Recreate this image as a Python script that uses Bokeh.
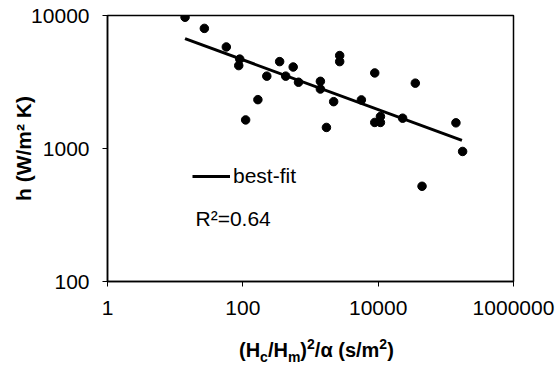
from bokeh.plotting import figure
from bokeh.models import (Range1d, FixedTicker, CustomJSTickFormatter, Label,
                          Legend, LegendItem, ColumnDataSource, Div)
from bokeh.layouts import column
from bokeh.embed import file_html
from bokeh.resources import INLINE

# ---- data ----
x_values = [14, 27, 57, 90, 87, 167, 110, 226, 350, 430, 555, 665,
            1400, 1400, 2700, 2700, 2200, 1720, 5650, 8900, 8900,
            10800, 10800, 23000, 35400, 44500, 141000, 177000]
h_values = [9700, 8000, 5800, 4700, 4200, 2330, 1640, 3500, 4500, 3500, 4100, 3150,
            3200, 2800, 5000, 4500, 2250, 1440, 2320, 3700, 1570,
            1570, 1740, 1690, 3100, 520, 1560, 950]
fit_x = [14, 173000]
fit_y = [6700, 1150]
x_ticks = [1, 100, 10000, 1000000]
y_ticks = [100, 1000, 10000]
fit_label = "best-fit"
r2_text = "R\u00b2=0.64"
y_title = "h (W/m\u00b2 K)"
x_title_html = ("(H<sub>c</sub>/H<sub>m</sub>)<sup>2</sup>/\u03b1 "
                "(s/m<sup>2</sup>)")

FONT = "Liberation Sans"

p = figure(width=560, height=335, x_axis_type="log", y_axis_type="log",
           x_range=Range1d(1, 1e6), y_range=Range1d(100, 10000),
           output_backend="svg", toolbar_location=None,
           min_border_left=107, min_border_right=47,
           min_border_top=15, min_border_bottom=54, margin=0)

p.background_fill_color = "white"
p.border_fill_color = "white"
p.outline_line_color = "black"
p.outline_line_width = 1.5
p.xgrid.visible = False
p.ygrid.visible = False

for ax, ticks in ((p.xaxis, x_ticks), (p.yaxis, y_ticks)):
    ax.ticker = FixedTicker(ticks=ticks)
    ax.formatter = CustomJSTickFormatter(code="return tick.toFixed(0);")
    ax.axis_line_color = "black"
    ax.axis_line_width = 1.5
    ax.major_tick_line_color = "black"
    ax.major_tick_out = 5
    ax.major_tick_in = 0
    ax.minor_tick_out = 0
    ax.minor_tick_in = 0
    ax.major_label_text_font = FONT
    ax.major_label_text_font_size = "21px"
    ax.major_label_text_color = "black"
p.xaxis.major_label_standoff = 14
p.yaxis.major_label_standoff = 13

p.yaxis.axis_label = y_title
p.yaxis.axis_label_text_font = FONT
p.yaxis.axis_label_text_font_size = "21px"
p.yaxis.axis_label_text_font_style = "bold"
p.yaxis.axis_label_text_color = "black"
p.yaxis.axis_label_standoff = -7

src = ColumnDataSource(dict(x=x_values, h=h_values))
p.scatter("x", "h", source=src, size=8.5, color="black")
fit_r = p.line(fit_x, fit_y, line_color="black", line_width=3)

legend = Legend(items=[LegendItem(label=fit_label, renderers=[fit_r])],
                location=(85, 93), padding=0, margin=0, spacing=0,
                glyph_width=38, glyph_height=20, label_standoff=3,
                label_text_font=FONT, label_text_font_size="21px",
                label_text_color="black",
                border_line_alpha=0, background_fill_alpha=0)
p.add_layout(legend)

p.add_layout(Label(x=88, y=63, x_units="screen", y_units="screen", text=r2_text,
                   text_font=FONT, text_font_size="21px", text_color="black",
                   text_baseline="alphabetic"))

x_title = Div(
    text=("<div style=\"margin-left:239px; margin-top:5px; white-space:nowrap; "
          "font-family:'Liberation Sans'; font-weight:bold; font-size:20px; "
          "line-height:20px; color:black;\">"
          + x_title_html.replace("<sub>", "<sub style=\"font-size:70%; line-height:0;\">")
                        .replace("<sup>", "<sup style=\"font-size:70%; line-height:0;\">")
          + "</div>"),
    width=560, height=35, margin=0)

layout = column(p, x_title, spacing=0, margin=0)

open("out.html", "w").write(file_html(layout, INLINE))
